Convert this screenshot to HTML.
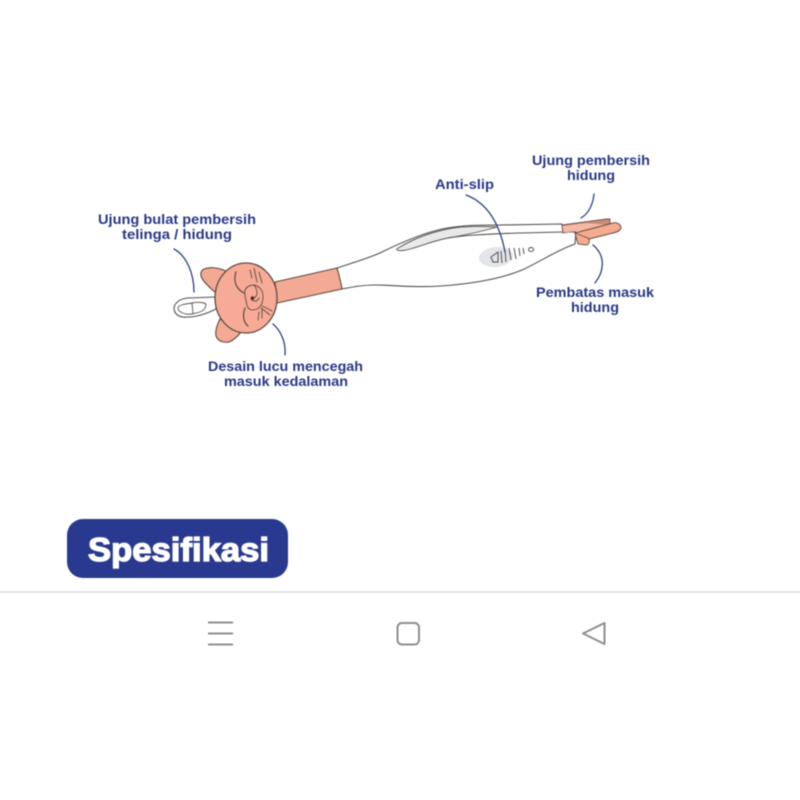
<!DOCTYPE html>
<html>
<head>
<meta charset="utf-8">
<style>
html,body{margin:0;padding:0;background:#fff;width:800px;height:800px;overflow:hidden}
svg{display:block;filter:blur(.5px)}
.l{font-family:"Liberation Sans",sans-serif;font-size:14px;font-weight:bold;fill:#2a3885}
</style>
</head>
<body>
<svg width="800" height="800" viewBox="0 0 800 800" xmlns="http://www.w3.org/2000/svg">
<rect width="800" height="800" fill="#fff"/>

<!-- tweezer body -->
<path d="M337 268 C352 263 366 259 380 253 C402 242 425 232 447 228 C465 225 480 225 500 225 L562 224 L563 232 L576 232 L575 244 C555 251 540 262 522 270 C500 279 470 284 440 286 C415 288 395 285 375 285 C362 285 352 287 342 289 Z" fill="#fff" stroke="#55504c" stroke-width="1.100" stroke-linejoin="round"/>
<path d="M397 250 C396 249 398 248 400 247 C418 236 436 231 453 228 C468 226 480 226 497 227 C480 232 465 235 448 238 C432 241 422 246 410 249 C404 251 399 251 397 250 Z" fill="#e8e9eb" stroke="#55504c" stroke-width=".9"/>
<path d="M448 238 C465 235 490 234 520 233 L563 232" fill="none" stroke="#55504c" stroke-width="1.100"/>
<ellipse cx="496" cy="257" rx="17" ry="10" transform="rotate(-6 496 257)" fill="#e4e5e8"/>

<!-- fish grip -->
<g fill="none" stroke="#4f4f4f" stroke-width="1">
<path d="M498 252 L491 257 L493 262 L498 262 Z"/>
<path d="M501 251 L502 263"/><path d="M505 250 L506 262"/><path d="M509 248 L511 260"/><path d="M514 248 L516 259"/><path d="M519 248 L520 256"/><path d="M523 248 L524 254"/>
<ellipse cx="531" cy="249.500" rx="2.500" ry="2"/>
</g>

<!-- tips -->
<path d="M562 225 L607 219 L610 219 L610 225 L563 233 Z" fill="#c78c7c" stroke="#6a5046" stroke-width=".9"/>
<path d="M562.500 226 L586 223 L609 225 L580 231 L563.500 232.500 Z" fill="#f5b8a4"/>
<path d="M575 233 L613 223 C618 222 621 225 621 228 C620 231 617 232 613 233 L589 239 L577 240 Z" fill="#f4ab90" stroke="#6a4a3e" stroke-width="1"/>
<path d="M575 233 L588 238 C590 240 590 243 587 245 L578 244 Z" fill="#f4ab90" stroke="#6a5046" stroke-width=".9"/>

<!-- pink handle -->
<path d="M275 282 L337 268 C339 275 341 282 342 289 L277 303 Z" fill="#f4a995" stroke="#5d4a42" stroke-width="1.100" stroke-linejoin="round"/>

<!-- loop -->
<path d="M216 297 L188 298 C178 299 174 304 174 309 C175 315 180 318 188 317 C197 317 208 313 216 309 Z" fill="#fff" stroke="#55504c" stroke-width="1.100"/>
<path d="M192 303 C197 302 203 302 206 304 C206 308 203 311 200 312 L192 314 C185 315 178 312 178 308 C178 305 185 304 192 303 Z M192 303 L193 314" fill="#fff" stroke="#55504c" stroke-width=".9"/>

<!-- ears -->
<path d="M226 271 C217 267 209 267 204 269 C200 271 200 276 203 280 C207 285 211 289 216 293 Z" fill="#f4a995" stroke="#5d4a42" stroke-width="1.100"/>
<path d="M220 319 C217 325 215 331 216 336 C218 341 223 343 229 342 C234 340 238 336 241 332 Z" fill="#f4a995" stroke="#5d4a42" stroke-width="1.100"/>

<!-- head -->
<ellipse cx="246" cy="298" rx="31" ry="35" fill="#f7ab96" stroke="#5d4a42" stroke-width="1.300"/>
<g fill="none" stroke="#5d4a42" stroke-width=".9" stroke-linecap="round">
<path d="M236 272 C233 281 236 289 244 293" stroke-width="1.200"/>
<path d="M245 308 C242 316 244 323 248 326" stroke-width="1.200"/>
<path d="M245 290 C247 286 251 285 254 285 C259 286 263 290 263 296 C263 302 261 307 257 309 C252 311 248 310 247 305 C246 300 244 295 245 290 Z"/>
<path d="M254 285 C258 290 258 296 254 298"/>
<path d="M251 299 C254 302 257 302 259 298"/>
<path d="M250 270 L252 278"/><path d="M254 268 L257 282"/><path d="M259 272 L262 283"/>
<path d="M258 320 L259 312"/><path d="M262 318 L262 309"/><path d="M270 315 L261 308"/><path d="M272 311 L262 306"/>
</g>
<circle cx="252.500" cy="298" r="1.800" fill="#4a3028"/>

<!-- leaders -->
<g fill="none" stroke="#2f3f8a" stroke-width="1.300" stroke-linecap="round">
<path d="M174 249 C187 256 194 274 194 292"/>
<path d="M273 324 C281 331 286 342 285 355"/>
<path d="M466 195 C488 203 500 225 505 252"/>
<path d="M594 194 C593 205 588 214 581 218"/>
<path d="M593 245 C604 254 606 269 595 283"/>
</g>

<!-- labels -->
<text class="l" x="98" y="224" textLength="158" lengthAdjust="spacingAndGlyphs">Ujung bulat pembersih</text>
<text class="l" x="122" y="239" textLength="110" lengthAdjust="spacingAndGlyphs">telinga / hidung</text>
<text class="l" x="435" y="189" textLength="59" lengthAdjust="spacingAndGlyphs">Anti-slip</text>
<text class="l" x="532" y="165" textLength="118" lengthAdjust="spacingAndGlyphs">Ujung pembersih</text>
<text class="l" x="567" y="180" textLength="48" lengthAdjust="spacingAndGlyphs">hidung</text>
<text class="l" x="536" y="297" textLength="118" lengthAdjust="spacingAndGlyphs">Pembatas masuk</text>
<text class="l" x="571" y="312" textLength="48" lengthAdjust="spacingAndGlyphs">hidung</text>
<text class="l" x="208" y="371" textLength="155" lengthAdjust="spacingAndGlyphs">Desain lucu mencegah</text>
<text class="l" x="224" y="386" textLength="124" lengthAdjust="spacingAndGlyphs">masuk kedalaman</text>

<!-- button -->
<rect x="67" y="519" width="221" height="59" rx="16" ry="16" fill="#2a3990"/>
<text x="88" y="561" font-family="'Liberation Sans',sans-serif" font-size="33" font-weight="bold" fill="#fff" stroke="#fff" stroke-width="1.300" textLength="181" lengthAdjust="spacingAndGlyphs">Spesifikasi</text>

<!-- divider -->
<rect x="0" y="591" width="800" height="2" fill="#e3e3e3"/>

<!-- nav -->
<g fill="none" stroke="#8f8f8f" stroke-width="2">
<path d="M208 622.500 H233"/><path d="M208 633.500 H233"/><path d="M208 644.500 H233"/>
<rect x="397.500" y="623" width="21.500" height="21.500" rx="4.500"/>
<path d="M604.500 623 L604.500 644 L583 633.500 Z" stroke-linejoin="round"/>
</g>
</svg>
</body>
</html>
